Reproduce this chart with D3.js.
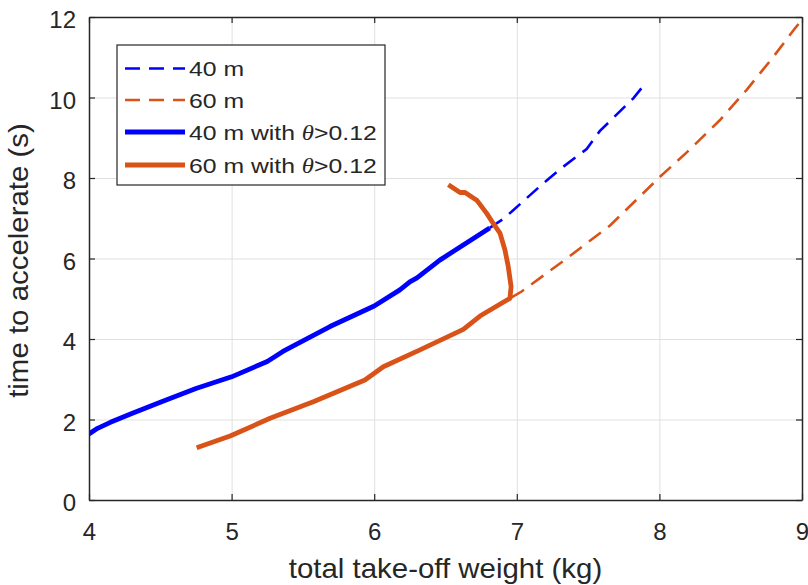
<!DOCTYPE html>
<html>
<head>
<meta charset="utf-8">
<script src="https://cdn.jsdelivr.net/npm/d3@7"></script>
<style>
  html, body { margin: 0; padding: 0; background: #fff; }
  svg { display: block; font-family: "Liberation Sans", Arial, Helvetica, sans-serif; }
</style>
</head>
<body>
<svg id="chart" width="808" height="585"></svg>
<script>
// ---------- data ----------
const xTicks = [4, 5, 6, 7, 8, 9];
const yTicks = [0, 2, 4, 6, 8, 10, 12];

// 40 m, full range (dashed)
const dash40 = [
  [6.81, 6.76], [6.905, 6.98], [6.975, 7.20], [7.186, 7.87], [7.326, 8.28],
  [7.49, 8.72], [7.583, 9.17], [7.817, 9.98], [7.911, 10.39]
];
// 60 m, full range (dashed)
const dash60 = [
  [6.96, 5.03], [7.034, 5.18], [7.35, 6.00], [7.49, 6.38], [7.654, 6.82],
  [8.004, 8.03], [8.19, 8.63], [8.425, 9.44], [8.612, 10.19], [8.799, 11.01],
  [8.951, 11.72], [9.0, 11.93]
];
// 40 m with theta > 0.12 (solid)
const solid40 = [
  [4.00, 1.64], [4.06, 1.78], [4.15, 1.93], [4.30, 2.15], [4.50, 2.43], [4.75, 2.77],
  [5.00, 3.06], [5.25, 3.44], [5.36, 3.69], [5.69, 4.31], [6.00, 4.82],
  [6.18, 5.22], [6.25, 5.42], [6.30, 5.52], [6.46, 5.96], [6.81, 6.76]
];
// 60 m with theta > 0.12 (solid)
const solid60 = [
  [4.755, 1.30], [4.99, 1.59], [5.27, 2.03], [5.573, 2.44], [5.935, 2.98],
  [6.064, 3.31], [6.321, 3.73], [6.625, 4.24], [6.742, 4.57], [6.952, 5.01],
  [6.96, 5.30], [6.94, 5.80], [6.917, 6.21], [6.882, 6.63], [6.835, 6.87],
  [6.789, 7.12], [6.719, 7.45], [6.637, 7.64], [6.602, 7.64], [6.52, 7.83]
];

const legendLabels = ["40 m", "60 m", "40 m with ", "60 m with "];
const xLabel = "total take-off weight (kg)";
const yLabel = "time to accelerate (s)";

// ---------- drawing ----------
const BLUE = "#0000ff", ORANGE = "#d95319", AX = "#262626", GRID = "#e0e0e0";
const svg = d3.select("#chart");
const L = 89, R = 802, T = 17, B = 500;
const x = d3.scaleLinear().domain([4, 9]).range([L, R]);
const y = d3.scaleLinear().domain([0, 12]).range([B, T]);

svg.append("defs").append("clipPath").attr("id", "clip")
  .append("rect").attr("x", L).attr("y", T).attr("width", R - L).attr("height", B - T);

// grid
const grid = svg.append("g");
grid.append("g").attr("transform", `translate(0,${B})`)
  .call(d3.axisBottom(x).tickValues(xTicks).tickSize(-(B - T)).tickFormat(""))
  .call(g => g.select(".domain").remove())
  .call(g => g.selectAll("line").attr("stroke", GRID).attr("stroke-width", 1));
grid.append("g").attr("transform", `translate(${L},0)`)
  .call(d3.axisLeft(y).tickValues(yTicks).tickSize(-(R - L)).tickFormat(""))
  .call(g => g.select(".domain").remove())
  .call(g => g.selectAll("line").attr("stroke", GRID).attr("stroke-width", 1));

// lines
const line = d3.line().x(d => x(d[0])).y(d => y(d[1])).curve(d3.curveLinear);
const plot = svg.append("g").attr("clip-path", "url(#clip)");
plot.append("path").datum(dash40).attr("d", line).attr("fill", "none")
  .attr("stroke", BLUE).attr("stroke-width", 2.6).attr("stroke-dasharray", "15,9");
plot.append("path").datum(dash60).attr("d", line).attr("fill", "none")
  .attr("stroke", ORANGE).attr("stroke-width", 2.6).attr("stroke-dasharray", "15,9");
plot.append("path").datum(solid40).attr("d", line).attr("fill", "none")
  .attr("stroke", BLUE).attr("stroke-width", 4.8).attr("stroke-linejoin", "round");
plot.append("path").datum(solid60).attr("d", line).attr("fill", "none")
  .attr("stroke", ORANGE).attr("stroke-width", 4.8).attr("stroke-linejoin", "round");

// axes (ticks inward, box)
const tickLen = 6;
const fmt = d3.format("d");
const axB = svg.append("g").attr("transform", `translate(0,${B})`)
  .call(d3.axisBottom(x).tickValues(xTicks).tickSizeInner(-tickLen).tickSizeOuter(0).tickPadding(20).tickFormat(fmt));
const axT = svg.append("g").attr("transform", `translate(0,${T})`)
  .call(d3.axisTop(x).tickValues(xTicks).tickSizeInner(-tickLen).tickSizeOuter(0).tickFormat(""));
const axL = svg.append("g").attr("transform", `translate(${L},0)`)
  .call(d3.axisLeft(y).tickValues(yTicks).tickSizeInner(-tickLen).tickSizeOuter(0).tickPadding(13).tickFormat(fmt));
const axR = svg.append("g").attr("transform", `translate(${R},0)`)
  .call(d3.axisRight(y).tickValues(yTicks).tickSizeInner(-tickLen).tickSizeOuter(0).tickFormat(""));
[axB, axT, axL, axR].forEach(a => {
  a.select(".domain").attr("stroke", AX).attr("stroke-width", 1.5);
  a.selectAll(".tick line").attr("stroke", AX).attr("stroke-width", 1.2);
  a.selectAll(".tick text").attr("fill", AX).style("font-size", "24px")
    .style("font-family", "'Liberation Sans', Arial, sans-serif");
});
axB.selectAll(".tick text").attr("dy", null).attr("y", 40);
axL.selectAll(".tick text").attr("dy", "0.45em");

// axis labels (slightly wide glyphs in the reference)
svg.append("text").attr("transform", `translate(${(L + R) / 2},578) scale(1.09,1)`)
  .attr("text-anchor", "middle").attr("fill", AX).style("font-size", "27px").text(xLabel);
svg.append("text").attr("transform", `translate(28,${(T + B) / 2 + 2}) rotate(-90) scale(1.09,1)`)
  .attr("text-anchor", "middle").attr("fill", AX).style("font-size", "27px").text(yLabel);

// legend
const lg = svg.append("g");
lg.append("rect").attr("x", 117).attr("y", 45).attr("width", 268).attr("height", 140)
  .attr("fill", "#fff").attr("stroke", AX).attr("stroke-width", 1.2);
const legendStyles = [
  { c: BLUE, w: 2.6, d: "15,9" },
  { c: ORANGE, w: 2.6, d: "15,9" },
  { c: BLUE, w: 4.8, d: null },
  { c: ORANGE, w: 4.8, d: null }
];
const rowY = [68.5, 100, 132, 165];
legendLabels.forEach((lab, i) => {
  const s = legendStyles[i];
  const ln = lg.append("line").attr("x1", 125).attr("x2", 185).attr("y1", rowY[i]).attr("y2", rowY[i])
    .attr("stroke", s.c).attr("stroke-width", s.w);
  if (s.d) ln.attr("stroke-dasharray", s.d);
  const t = lg.append("text").attr("transform", `translate(189,${rowY[i] + 7.5}) scale(1.18,1)`)
    .attr("fill", AX).style("font-size", "21px").attr("xml:space", "preserve");
  t.append("tspan").text(lab);
  if (i >= 2) {
    t.append("tspan").style("font-family", "'Liberation Serif', 'Times New Roman', serif")
      .style("font-style", "italic").text("θ");
    t.append("tspan").text(">0.12");
  }
});
</script>
</body>
</html>
